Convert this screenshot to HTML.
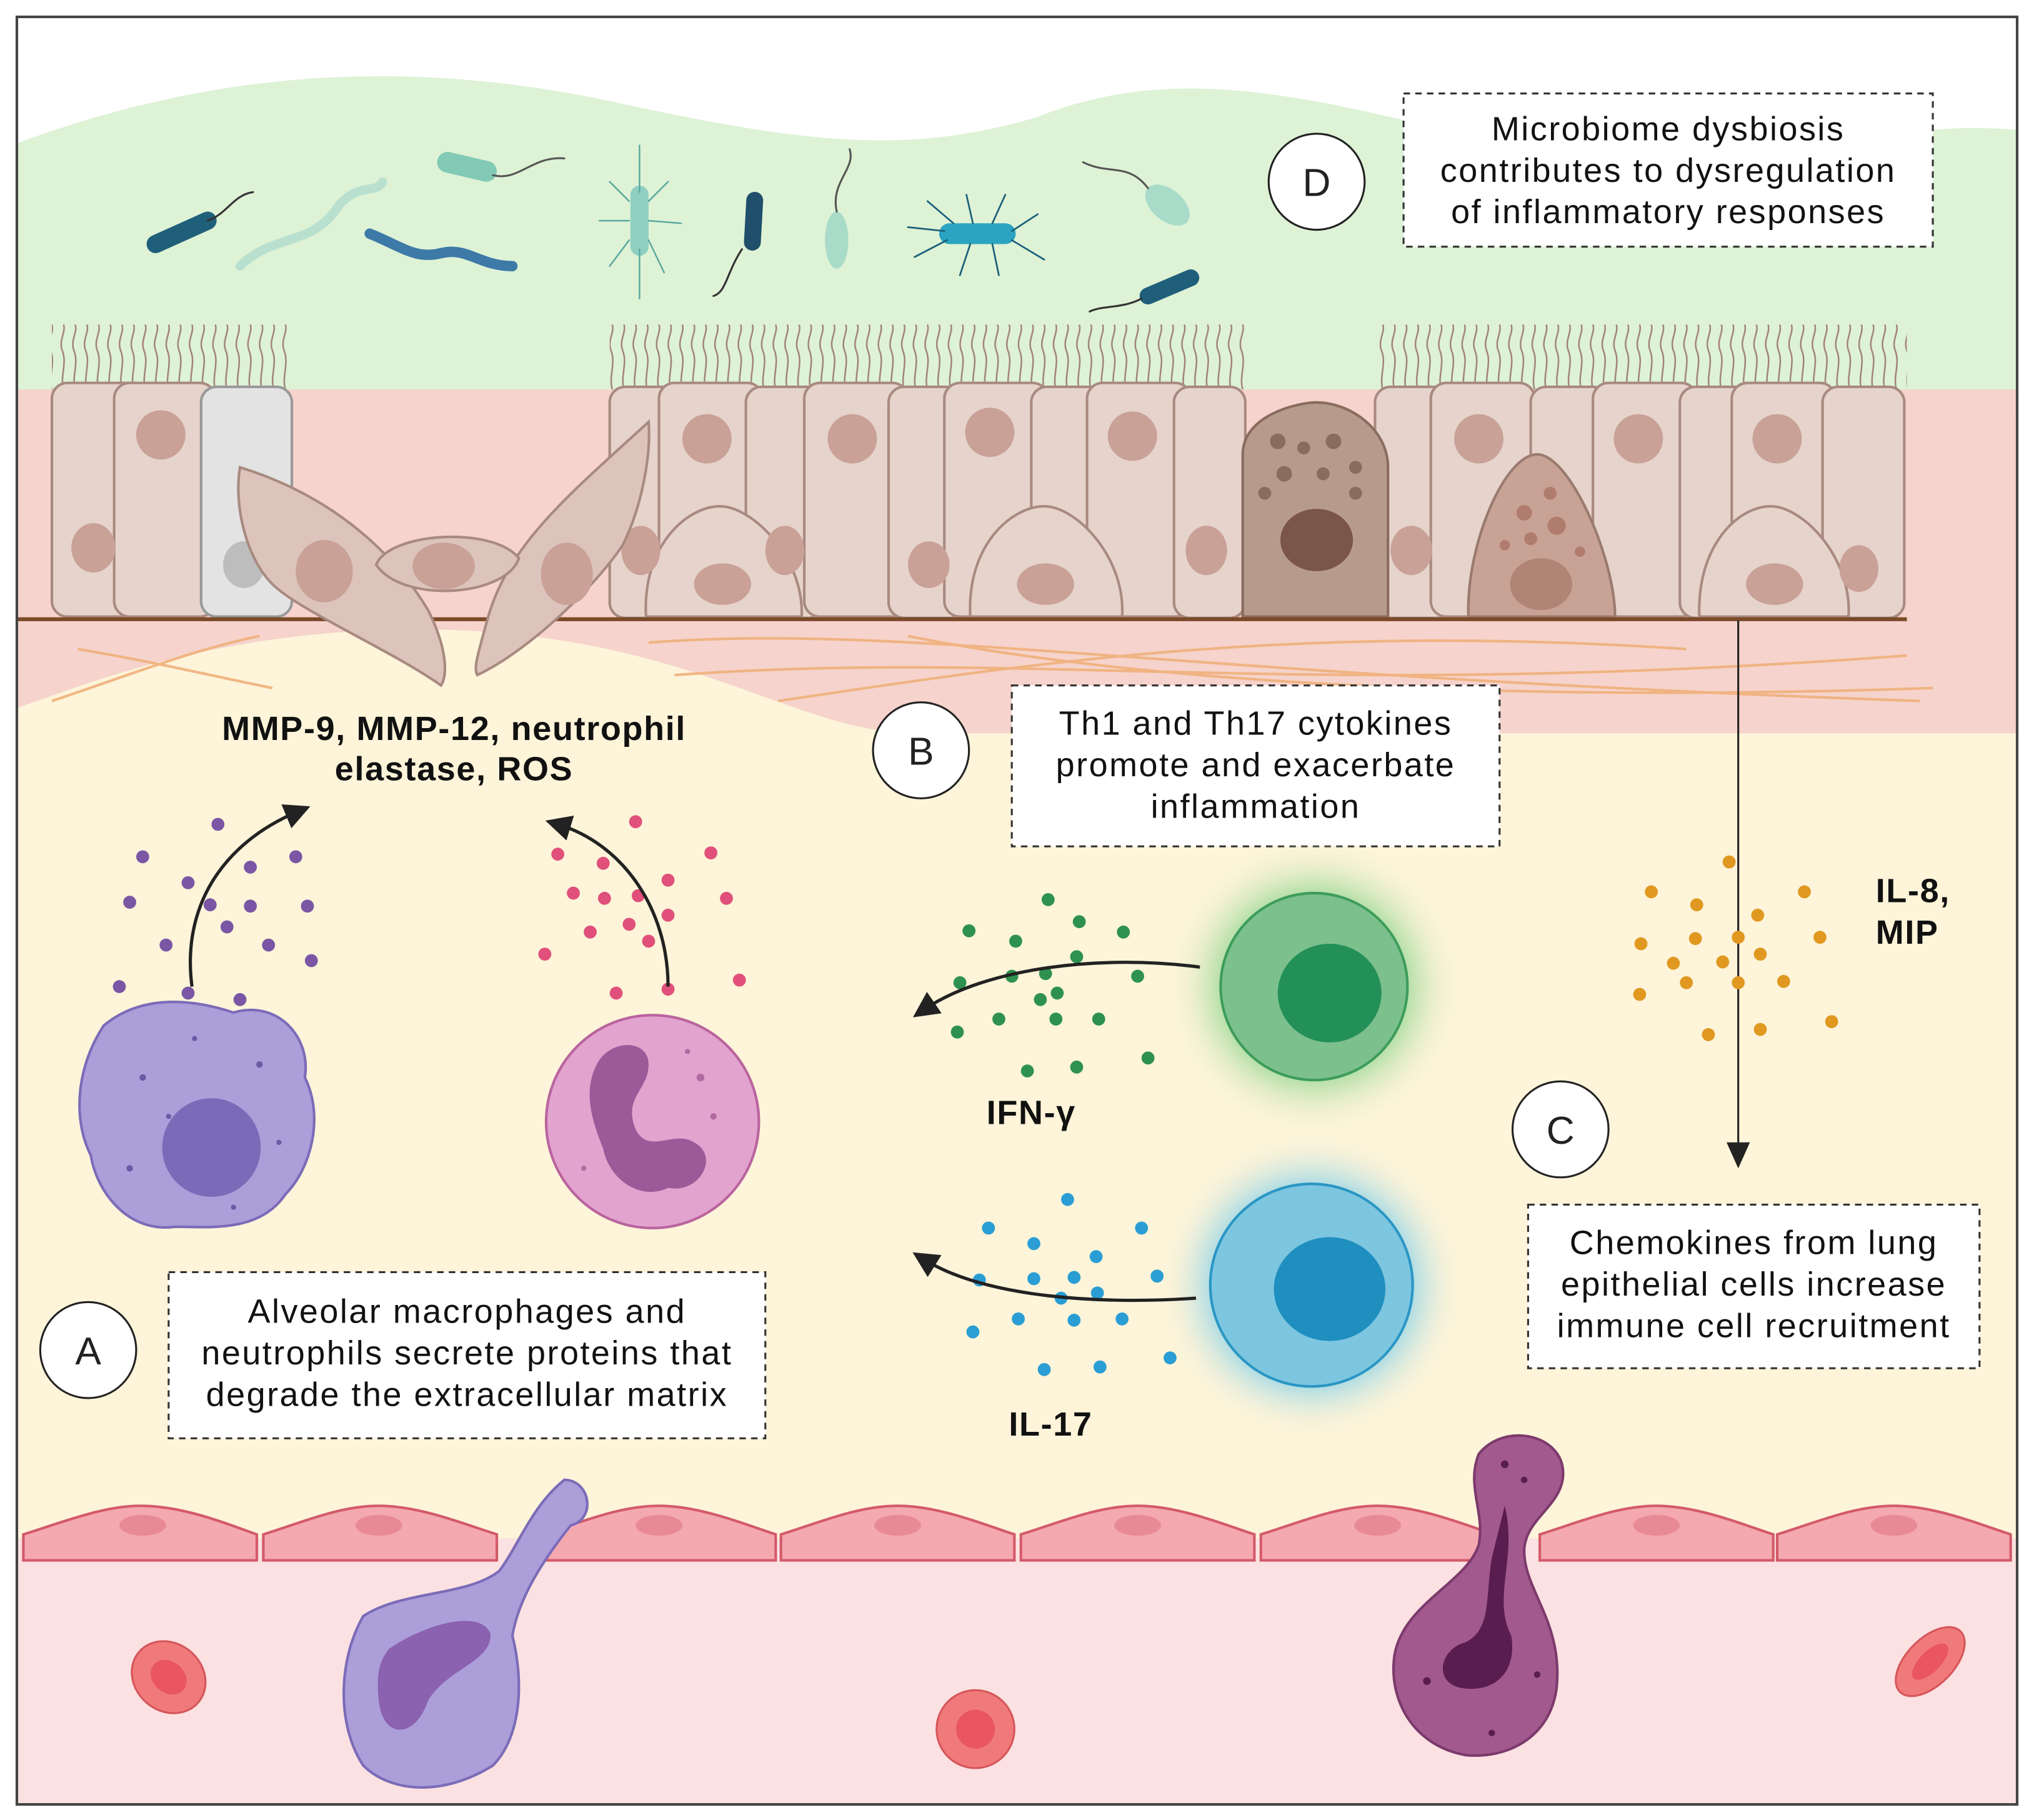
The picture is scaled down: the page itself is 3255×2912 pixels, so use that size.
<!DOCTYPE html>
<html><head><meta charset="utf-8"><style>
html,body{margin:0;padding:0;background:#fff;}
svg{display:block;}
text{font-family:"Liberation Sans",sans-serif;}
.bx{font-size:26px;letter-spacing:1.2px;}
.bl{font-size:26px;letter-spacing:0.8px;font-weight:bold;}
</style></head><body>
<svg width="3255" height="2912" viewBox="0 0 1568 1402" preserveAspectRatio="none" xmlns="http://www.w3.org/2000/svg">
<defs>
<radialGradient id="gg"><stop offset="0.6" stop-color="#a9dca0"/><stop offset="1" stop-color="#fdf4d9" stop-opacity="0"/></radialGradient>
<radialGradient id="bg"><stop offset="0.6" stop-color="#8fd3e8"/><stop offset="1" stop-color="#fdf4d9" stop-opacity="0"/></radialGradient>
<marker id="ah" markerWidth="8" markerHeight="8" refX="4" refY="4" orient="auto"><path d="M0,0 L8,4 L0,8 Z" fill="#222"/></marker>
<pattern id="cil" x="0" y="0" width="9" height="50" patternUnits="userSpaceOnUse">
<path d="M4,50 C1,40 7,30 3,20 C0,12 6,6 4,0" stroke="#a08278" stroke-width="1.2" fill="none"/>
</pattern>
</defs>
<rect x="0" y="0" width="1568" height="1402" fill="#fff"/>
<path d="M14,110 C150,60 300,40 480,80 C620,110 700,120 800,90 C900,50 1000,70 1150,110 C1300,140 1450,90 1554,100 L1554,320 L14,320 Z" fill="#def2d6"/>
<rect x="14" y="300" width="1540" height="270" fill="#f6d3cc"/>
<path d="M14,560 L14,1390 L1554,1390 L1554,565 L700,565 C600,560 520,480 300,485 C150,490 60,530 14,545 Z" fill="#fdf4d9"/>
<rect x="14" y="1185" width="1540" height="205" fill="#fbe1e1"/>
<g stroke="#f0b07a" stroke-width="2" fill="none" opacity="0.9">
<path d="M500,495 C700,480 900,520 1480,540"/><path d="M520,520 C800,500 1000,540 1470,505"/>
<path d="M600,540 C800,510 1000,480 1300,500"/><path d="M700,490 C900,530 1200,540 1490,530"/>
<path d="M40,540 C100,520 150,500 200,490"/><path d="M60,500 C120,510 160,520 210,530"/>
</g>
<rect x="40" y="250" width="185" height="50" fill="url(#cil)"/>
<rect x="470" y="250" width="490" height="50" fill="url(#cil)"/>
<rect x="1060" y="250" width="410" height="50" fill="url(#cil)"/>
<g fill="#e6d3cc" stroke="#a88a80" stroke-width="2">
<rect x="40" y="295" width="75" height="180" rx="12"/>
<rect x="88" y="295" width="78" height="180" rx="12"/>
<rect x="155" y="298" width="70" height="177" rx="12" fill="#e3e3e3" stroke="#999"/>
<rect x="470" y="298" width="60" height="178" rx="12"/>
<rect x="508" y="295" width="80" height="180" rx="12"/>
<rect x="575" y="298" width="60" height="178" rx="12"/>
<rect x="620" y="295" width="80" height="180" rx="12"/>
<rect x="685" y="298" width="60" height="178" rx="12"/>
<rect x="728" y="295" width="80" height="180" rx="12"/>
<rect x="795" y="298" width="60" height="178" rx="12"/>
<rect x="838" y="295" width="80" height="180" rx="12"/>
<rect x="905" y="298" width="55" height="178" rx="12"/>
<rect x="1060" y="298" width="60" height="178" rx="12"/>
<rect x="1103" y="295" width="80" height="180" rx="12"/>
<rect x="1180" y="298" width="60" height="178" rx="12"/>
<rect x="1228" y="295" width="80" height="180" rx="12"/>
<rect x="1295" y="298" width="60" height="178" rx="12"/>
<rect x="1335" y="295" width="80" height="180" rx="12"/>
<rect x="1405" y="298" width="63" height="178" rx="12"/>
<path d="M498,475 C495,420 530,390 555,390 C580,390 620,430 618,475 Z"/>
<path d="M748,475 C745,420 780,390 805,390 C830,390 868,430 865,475 Z"/>
<path d="M1310,475 C1308,420 1340,390 1365,390 C1390,390 1428,430 1425,475 Z"/>
</g>
<g fill="#c9a196">
<ellipse cx="72" cy="422" rx="17" ry="19"/><ellipse cx="124" cy="335" rx="19" ry="19"/>
<ellipse cx="494" cy="424" rx="15" ry="19"/><ellipse cx="545" cy="338" rx="19" ry="19"/>
<ellipse cx="605" cy="424" rx="15" ry="19"/><ellipse cx="657" cy="338" rx="19" ry="19"/>
<ellipse cx="716" cy="435" rx="16" ry="18"/><ellipse cx="763" cy="333" rx="19" ry="19"/>
<ellipse cx="873" cy="336" rx="19" ry="19"/><ellipse cx="930" cy="424" rx="16" ry="19"/>
<ellipse cx="1088" cy="424" rx="16" ry="19"/><ellipse cx="1140" cy="338" rx="19" ry="19"/>
<ellipse cx="1263" cy="338" rx="19" ry="19"/><ellipse cx="1370" cy="338" rx="19" ry="19"/>
<ellipse cx="1433" cy="438" rx="15" ry="18"/>
<ellipse cx="557" cy="450" rx="22" ry="16"/><ellipse cx="806" cy="450" rx="22" ry="16"/><ellipse cx="1368" cy="450" rx="22" ry="16"/>
</g>
<ellipse cx="188" cy="435" rx="16" ry="18" fill="#bdbdbd"/>
<path d="M958,475 L958,350 C958,320 1000,310 1015,310 C1040,310 1070,330 1070,360 L1070,475 Z" fill="#b69b8c" stroke="#8a6c5e" stroke-width="2"/>
<ellipse cx="1015" cy="416" rx="28" ry="24" fill="#7b5548"/>
<g fill="#8a6c5e"><circle cx="985" cy="340" r="6"/><circle cx="1005" cy="345" r="5"/><circle cx="1028" cy="340" r="6"/><circle cx="1045" cy="360" r="5"/><circle cx="990" cy="365" r="6"/><circle cx="1020" cy="365" r="5"/><circle cx="1045" cy="380" r="5"/><circle cx="975" cy="380" r="5"/></g>
<path d="M1132,475 C1130,420 1160,350 1185,350 C1210,350 1245,430 1245,475 Z" fill="#c9a296" stroke="#9a7a6e" stroke-width="2"/>
<ellipse cx="1188" cy="450" rx="24" ry="20" fill="#b08576"/>
<g fill="#b07c6e"><circle cx="1175" cy="395" r="6"/><circle cx="1200" cy="405" r="7"/><circle cx="1180" cy="415" r="5"/><circle cx="1195" cy="380" r="5"/><circle cx="1160" cy="420" r="4"/><circle cx="1218" cy="425" r="4"/></g>
<line x1="14" y1="477" x2="1470" y2="477" stroke="#7a4a2a" stroke-width="3"/>
<g fill="#dcc3bb" stroke="#a88a80" stroke-width="2">
<path d="M185,360 C250,380 300,420 330,470 C345,500 345,520 340,528 C300,500 230,470 210,450 C190,430 180,390 185,360 Z"/>
<path d="M500,325 C440,380 390,420 375,480 C368,505 365,515 368,520 C410,500 460,450 480,420 C495,390 502,350 500,325 Z"/>
<path d="M290,435 C300,410 380,405 400,430 C390,460 310,465 290,435 Z"/>
</g>
<g fill="#c9a196"><ellipse cx="250" cy="440" rx="22" ry="24"/><ellipse cx="342" cy="436" rx="24" ry="18"/><ellipse cx="437" cy="442" rx="20" ry="24"/></g>
<g stroke-linecap="round">
<line x1="120" y1="188" x2="160" y2="170" stroke="#1f5f7a" stroke-width="14"/>
<path d="M160,170 C175,165 180,150 195,148" stroke="#333" stroke-width="1.5" fill="none"/>
<path d="M185,205 C210,180 240,190 260,160 C275,140 290,150 295,140" stroke="#b9e0cf" stroke-width="7" fill="none"/>
<path d="M285,180 C310,190 320,200 340,195 C360,190 370,205 395,205" stroke="#3d7aa8" stroke-width="8" fill="none"/>
<line x1="345" y1="125" x2="375" y2="132" stroke="#82cab5" stroke-width="16"/>
<path d="M380,135 C400,140 410,120 435,122" stroke="#555" stroke-width="1.5" fill="none"/>
<line x1="493" y1="150" x2="493" y2="190" stroke="#8fcfc0" stroke-width="14"/>
<line x1="575" y1="155" x2="587" y2="185" stroke="#1f4f6a" stroke-width="13" transform="rotate(25 580 170)"/>
<path d="M572,192 C560,210 560,225 550,228" stroke="#333" stroke-width="1.5" fill="none"/>
<ellipse cx="645" cy="185" rx="9" ry="22" fill="#a8dcc9"/>
<path d="M645,163 C640,140 660,130 655,115" stroke="#555" stroke-width="1.5" fill="none"/>
<line x1="732" y1="180" x2="775" y2="180" stroke="#2aa4c0" stroke-width="16"/>
<g stroke="#1a5f7a" stroke-width="1.3" fill="none"><path d="M735,172 L715,155"/><path d="M750,172 L745,150"/><path d="M765,172 L775,150"/><path d="M780,178 L800,165"/><path d="M780,185 L805,200"/><path d="M765,188 L770,212"/><path d="M748,188 L740,212"/><path d="M730,185 L705,198"/><path d="M728,178 L700,175"/></g>
<g stroke="#5aa9a0" stroke-width="1.2" fill="none"><path d="M485,155 L470,140"/><path d="M500,155 L515,140"/><path d="M485,170 L462,170"/><path d="M500,170 L525,172"/><path d="M485,185 L470,205"/><path d="M500,185 L512,210"/><path d="M493,148 L493,112"/><path d="M493,192 L493,230"/></g>
<ellipse cx="900" cy="158" rx="20" ry="12" fill="#a8dcc9" transform="rotate(40 900 158)"/>
<path d="M885,145 C870,125 855,135 835,125" stroke="#555" stroke-width="1.5" fill="none"/>
<line x1="885" y1="228" x2="918" y2="214" stroke="#1f5f7a" stroke-width="13"/>
<path d="M880,230 C865,238 850,235 840,240" stroke="#333" stroke-width="1.5" fill="none"/>
</g>
<circle cx="1015" cy="140" r="37" fill="#fff" stroke="#222" stroke-width="1.5"/>
<text x="1015" y="151" font-size="30" text-anchor="middle" fill="#222">D</text>
<rect x="1082" y="72" width="408" height="118" fill="#fff" stroke="#333" stroke-width="1.5" stroke-dasharray="5,4"/>
<g class="bx" text-anchor="middle" fill="#111"><text x="1286" y="108">Microbiome dysbiosis</text><text x="1286" y="140">contributes to dysregulation</text><text x="1286" y="172">of inflammatory responses</text></g>
<g class="bl" text-anchor="middle" fill="#111"><text x="350" y="570">MMP-9, MMP-12, neutrophil</text><text x="350" y="601">elastase, ROS</text></g>
<circle cx="710" cy="578" r="37" fill="#fff" stroke="#222" stroke-width="1.5"/>
<text x="710" y="589" font-size="30" text-anchor="middle" fill="#222">B</text>
<rect x="780" y="528" width="376" height="124" fill="#fff" stroke="#333" stroke-width="1.5" stroke-dasharray="5,4"/>
<g class="bx" text-anchor="middle" fill="#111"><text x="968" y="566">Th1 and Th17 cytokines</text><text x="968" y="598">promote and exacerbate</text><text x="968" y="630">inflammation</text></g>
<g fill="#7a56a5"><circle cx="110" cy="660" r="5"/><circle cx="168" cy="635" r="5"/><circle cx="100" cy="695" r="5"/><circle cx="145" cy="680" r="5"/><circle cx="162" cy="697" r="5"/><circle cx="193" cy="668" r="5"/><circle cx="228" cy="660" r="5"/><circle cx="193" cy="698" r="5"/><circle cx="237" cy="698" r="5"/><circle cx="128" cy="728" r="5"/><circle cx="175" cy="714" r="5"/><circle cx="207" cy="728" r="5"/><circle cx="240" cy="740" r="5"/><circle cx="92" cy="760" r="5"/><circle cx="145" cy="765" r="5"/><circle cx="185" cy="770" r="5"/></g>
<path d="M148,760 C140,700 170,650 230,625" stroke="#222" stroke-width="2.5" fill="none" marker-end="url(#ah)"/>
<g fill="#e0507a"><circle cx="490" cy="633" r="5"/><circle cx="430" cy="658" r="5"/><circle cx="465" cy="665" r="5"/><circle cx="548" cy="657" r="5"/><circle cx="442" cy="688" r="5"/><circle cx="466" cy="692" r="5"/><circle cx="492" cy="690" r="5"/><circle cx="515" cy="678" r="5"/><circle cx="560" cy="692" r="5"/><circle cx="420" cy="735" r="5"/><circle cx="455" cy="718" r="5"/><circle cx="485" cy="712" r="5"/><circle cx="515" cy="705" r="5"/><circle cx="500" cy="725" r="5"/><circle cx="475" cy="765" r="5"/><circle cx="515" cy="762" r="5"/><circle cx="570" cy="755" r="5"/></g>
<path d="M515,760 C515,700 480,650 430,635" stroke="#222" stroke-width="2.5" fill="none" marker-end="url(#ah)"/>
<path d="M80,790 C110,765 150,770 180,780 C215,770 240,800 235,830 C250,860 240,900 220,920 C200,950 160,945 135,945 C100,950 75,920 70,890 C55,860 60,820 80,790 Z" fill="#ab9ed9" stroke="#7b6bb8" stroke-width="2"/>
<circle cx="163" cy="884" r="38" fill="#7a6bb8"/>
<g fill="#6a5aa5"><circle cx="110" cy="830" r="2.5"/><circle cx="130" cy="860" r="2"/><circle cx="200" cy="820" r="2.5"/><circle cx="215" cy="880" r="2"/><circle cx="100" cy="900" r="2.5"/><circle cx="180" cy="930" r="2"/><circle cx="150" cy="800" r="2"/></g>
<circle cx="503" cy="864" r="82" fill="#e2a3cf" stroke="#b9649e" stroke-width="2"/>
<path d="M460,820 C470,800 500,800 500,820 C500,840 480,845 490,870 C500,890 520,870 535,880 C555,890 540,920 515,915 C495,925 470,910 465,885 C455,860 450,840 460,820 Z" fill="#9c5a99"/>
<g fill="#b06aa0"><circle cx="540" cy="830" r="3"/><circle cx="450" cy="900" r="2"/><circle cx="550" cy="860" r="2.5"/><circle cx="530" cy="810" r="2"/></g>
<circle cx="1013" cy="760" r="115" fill="url(#gg)"/>
<circle cx="1013" cy="760" r="72" fill="#7cc08e" stroke="#3d9c5b" stroke-width="2"/>
<ellipse cx="1025" cy="765" rx="40" ry="38" fill="#239058"/>
<g fill="#2e9150"><circle cx="808" cy="693" r="5"/><circle cx="747" cy="717" r="5"/><circle cx="783" cy="725" r="5"/><circle cx="832" cy="710" r="5"/><circle cx="866" cy="718" r="5"/><circle cx="740" cy="757" r="5"/><circle cx="780" cy="752" r="5"/><circle cx="806" cy="750" r="5"/><circle cx="830" cy="737" r="5"/><circle cx="877" cy="752" r="5"/><circle cx="815" cy="765" r="5"/><circle cx="770" cy="785" r="5"/><circle cx="814" cy="785" r="5"/><circle cx="847" cy="785" r="5"/><circle cx="738" cy="795" r="5"/><circle cx="792" cy="825" r="5"/><circle cx="830" cy="822" r="5"/><circle cx="885" cy="815" r="5"/><circle cx="802" cy="770" r="5"/></g>
<path d="M925,745 C850,735 760,745 712,778" stroke="#222" stroke-width="2.5" fill="none" marker-end="url(#ah)"/>
<text class="bl" x="795" y="866" text-anchor="middle" fill="#111">IFN-γ</text>
<circle cx="1011" cy="990" r="118" fill="url(#bg)"/>
<circle cx="1011" cy="990" r="78" fill="#7dc6e0" stroke="#2a96c4" stroke-width="2"/>
<ellipse cx="1025" cy="993" rx="43" ry="40" fill="#1f8fc0"/>
<g fill="#2a9ed4"><circle cx="823" cy="924" r="5"/><circle cx="762" cy="946" r="5"/><circle cx="880" cy="946" r="5"/><circle cx="797" cy="958" r="5"/><circle cx="845" cy="968" r="5"/><circle cx="797" cy="985" r="5"/><circle cx="828" cy="984" r="5"/><circle cx="892" cy="983" r="5"/><circle cx="755" cy="986" r="5"/><circle cx="846" cy="996" r="5"/><circle cx="818" cy="1000" r="5"/><circle cx="785" cy="1016" r="5"/><circle cx="828" cy="1017" r="5"/><circle cx="865" cy="1016" r="5"/><circle cx="750" cy="1026" r="5"/><circle cx="805" cy="1055" r="5"/><circle cx="848" cy="1053" r="5"/><circle cx="902" cy="1046" r="5"/></g>
<path d="M922,1000 C850,1005 760,1000 712,970" stroke="#222" stroke-width="2.5" fill="none" marker-end="url(#ah)"/>
<text class="bl" x="810" y="1106" text-anchor="middle" fill="#111">IL-17</text>
<line x1="1340" y1="478" x2="1340" y2="890" stroke="#222" stroke-width="1.5"/>
<path d="M1331,880 L1349,880 L1340,900 Z" fill="#222"/>
<g fill="#e09820"><circle cx="1333" cy="664" r="5"/><circle cx="1273" cy="687" r="5"/><circle cx="1308" cy="697" r="5"/><circle cx="1391" cy="687" r="5"/><circle cx="1355" cy="705" r="5"/><circle cx="1265" cy="727" r="5"/><circle cx="1307" cy="723" r="5"/><circle cx="1340" cy="722" r="5"/><circle cx="1403" cy="722" r="5"/><circle cx="1357" cy="735" r="5"/><circle cx="1328" cy="741" r="5"/><circle cx="1290" cy="742" r="5"/><circle cx="1264" cy="766" r="5"/><circle cx="1300" cy="757" r="5"/><circle cx="1340" cy="757" r="5"/><circle cx="1375" cy="756" r="5"/><circle cx="1317" cy="797" r="5"/><circle cx="1357" cy="793" r="5"/><circle cx="1412" cy="787" r="5"/></g>
<g class="bl" fill="#111"><text x="1446" y="695">IL-8,</text><text x="1446" y="727">MIP</text></g>
<circle cx="1203" cy="870" r="37" fill="#fff" stroke="#222" stroke-width="1.5"/>
<text x="1203" y="881" font-size="30" text-anchor="middle" fill="#222">C</text>
<rect x="1178" y="928" width="348" height="126" fill="#fff" stroke="#333" stroke-width="1.5" stroke-dasharray="5,4"/>
<g class="bx" text-anchor="middle" fill="#111"><text x="1352" y="966">Chemokines from lung</text><text x="1352" y="998">epithelial cells increase</text><text x="1352" y="1030">immune cell recruitment</text></g>
<circle cx="68" cy="1040" r="37" fill="#fff" stroke="#222" stroke-width="1.5"/>
<text x="68" y="1051" font-size="30" text-anchor="middle" fill="#222">A</text>
<rect x="130" y="980" width="460" height="128" fill="#fff" stroke="#333" stroke-width="1.5" stroke-dasharray="5,4"/>
<g class="bx" text-anchor="middle" fill="#111"><text x="360" y="1019">Alveolar macrophages and</text><text x="360" y="1051">neutrophils secrete proteins that</text><text x="360" y="1083">degrade the extracellular matrix</text></g>
<g fill="#f4a8b0" stroke="#d35a6a" stroke-width="2">
<path d="M18,1202 L18,1182 C50,1172 80,1160 108,1160 C140,1160 170,1172 198,1182 L198,1202 Z"/>
<path d="M203,1202 L203,1182 C235,1172 262,1160 292,1160 C322,1160 352,1172 383,1182 L383,1202 Z"/>
<path d="M418,1202 L418,1182 C450,1172 478,1160 508,1160 C538,1160 568,1172 598,1182 L598,1202 Z"/>
<path d="M602,1202 L602,1182 C634,1172 662,1160 692,1160 C722,1160 752,1172 782,1182 L782,1202 Z"/>
<path d="M787,1202 L787,1182 C819,1172 847,1160 877,1160 C907,1160 937,1172 967,1182 L967,1202 Z"/>
<path d="M972,1202 L972,1182 C1004,1172 1032,1160 1062,1160 C1092,1160 1122,1172 1152,1182 L1152,1202 Z"/>
<path d="M1187,1202 L1187,1182 C1219,1172 1247,1160 1277,1160 C1307,1160 1337,1172 1367,1182 L1367,1202 Z"/>
<path d="M1370,1202 L1370,1182 C1402,1172 1430,1160 1460,1160 C1490,1160 1520,1172 1550,1182 L1550,1202 Z"/>
</g>
<g fill="#e88a96"><ellipse cx="110" cy="1175" rx="18" ry="8"/><ellipse cx="292" cy="1175" rx="18" ry="8"/><ellipse cx="508" cy="1175" rx="18" ry="8"/><ellipse cx="692" cy="1175" rx="18" ry="8"/><ellipse cx="877" cy="1175" rx="18" ry="8"/><ellipse cx="1062" cy="1175" rx="18" ry="8"/><ellipse cx="1277" cy="1175" rx="18" ry="8"/><ellipse cx="1460" cy="1175" rx="18" ry="8"/></g>
<path d="M435,1140 C455,1140 460,1170 440,1175 C420,1200 400,1230 395,1260 C405,1300 400,1340 380,1360 C340,1385 300,1380 280,1360 C260,1330 260,1280 280,1245 C310,1225 360,1230 385,1210 C400,1190 410,1160 435,1140 Z" fill="#ab9ed9" stroke="#7b6bb8" stroke-width="2"/>
<path d="M300,1270 C330,1250 370,1240 378,1258 C380,1280 345,1285 330,1310 C320,1340 295,1340 292,1310 C290,1290 292,1280 300,1270 Z" fill="#8a62b0"/>
<path d="M1140,1120 C1160,1095 1205,1105 1205,1135 C1205,1160 1175,1170 1175,1195 C1175,1225 1205,1250 1200,1300 C1195,1340 1160,1355 1130,1352 C1090,1345 1070,1310 1075,1275 C1082,1235 1130,1220 1140,1190 C1145,1165 1130,1145 1140,1120 Z" fill="#a25a8e" stroke="#7c3a6c" stroke-width="2"/>
<path d="M1160,1160 C1170,1200 1150,1230 1165,1260 C1170,1290 1150,1305 1125,1300 C1105,1295 1110,1270 1130,1265 C1150,1255 1145,1230 1150,1200 Z" fill="#5a1d50"/>
<g fill="#5a1d50"><circle cx="1160" cy="1128" r="3"/><circle cx="1175" cy="1140" r="2.5"/><circle cx="1100" cy="1295" r="3"/><circle cx="1185" cy="1290" r="2.5"/><circle cx="1150" cy="1335" r="2.5"/></g>
<g fill="#f07a7a" stroke="#d5555a" stroke-width="1.5">
<ellipse cx="130" cy="1292" rx="30" ry="26" transform="rotate(40 130 1292)"/>
<ellipse cx="752" cy="1332" rx="30" ry="30"/>
<ellipse cx="1488" cy="1280" rx="33" ry="18" transform="rotate(-45 1488 1280)"/>
</g>
<g fill="#e95560"><ellipse cx="130" cy="1292" rx="15" ry="12" transform="rotate(40 130 1292)"/><ellipse cx="752" cy="1332" rx="15" ry="15"/><ellipse cx="1488" cy="1280" rx="18" ry="8" transform="rotate(-45 1488 1280)"/></g>
<rect x="13" y="13" width="1542" height="1377" fill="none" stroke="#444" stroke-width="2"/>
</svg>
</body></html>
